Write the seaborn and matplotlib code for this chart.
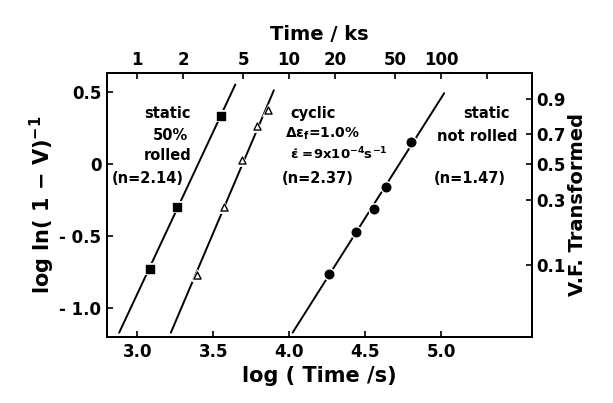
import numpy as np
import pandas as pd
import seaborn as sns
import matplotlib.pyplot as plt

# static, 50% rolled (filled squares)
rolled_logt = [3.08, 3.26, 3.55]
rolled_y = [-0.73, -0.30, 0.33]
# cyclic (open triangles)
cyclic_logt = [3.39, 3.57, 3.69, 3.79, 3.86]
cyclic_y = [-0.77, -0.30, 0.03, 0.26, 0.37]
# static, not rolled (filled circles)
notrolled_logt = [4.26, 4.44, 4.56, 4.64, 4.80]
notrolled_y = [-0.76, -0.47, -0.31, -0.16, 0.15]

# y extent of each fitted line
line_ylo = [-1.17, -1.17, -1.17]
line_yhi = [0.55, 0.51, 0.49]

top_ticks_ks = [1, 2, 5, 10, 20, 50, 100, 200]
top_labels = ["1", "2", "5", "10", "20", "50", "100", ""]
left_ticks = [0.5, 0, -0.5, -1.0]
left_labels = ["0.5", "0", "- 0.5", "- 1.0"]
bottom_ticks = [3.0, 3.5, 4.0, 4.5, 5.0]
vf_labels = ["0.9", "0.7", "0.5", "0.3", "0.1"]
vf_pos = [0.45, 0.21, 0.0, -0.25, -0.70]

sns.set_style("ticks")
plt.rcParams["font.family"] = ["DejaVu Sans"]
plt.rcParams["font.weight"] = "bold"
plt.rcParams["mathtext.default"] = "bf"
for k in ("text.color", "axes.labelcolor", "xtick.color", "ytick.color", "axes.edgecolor"):
    plt.rcParams[k] = "black"

fig = plt.figure(figsize=(6.13, 4.03), dpi=100)
ax = fig.add_axes([0.1746, 0.1638, 0.6933, 0.6551])

series = [
    (rolled_logt, rolled_y, "s", "black", 28),
    (cyclic_logt, cyclic_y, "^", "white", 26),
    (notrolled_logt, notrolled_y, "o", "black", 38),
]

for i, (xs, ys, mk, fc, sz) in enumerate(series):
    m, b = np.polyfit(xs, ys, 1)
    yl = np.array([line_ylo[i], line_yhi[i]])
    line = pd.DataFrame({"x": (yl - b) / m, "y": yl})
    sns.lineplot(data=line, x="x", y="y", ax=ax, color="black", lw=1.4)
    pts = pd.DataFrame({"x": xs, "y": ys})
    sns.scatterplot(data=pts, x="x", y="y", ax=ax, marker=mk, s=sz,
                    facecolor=fc, edgecolor="black", linewidth=1.0, zorder=3)
    # small white halo to break the line round each marker
    ax.scatter(xs, ys, s=85, c="white", marker=mk, zorder=2.5, linewidths=0)

ax.set_xlim(2.80, 5.60)
ax.set_ylim(-1.20, 0.63)

ax.set_xticks(bottom_ticks)
ax.set_xticklabels([f"{t:.1f}" for t in bottom_ticks])
ax.set_yticks(left_ticks)
ax.set_yticklabels(left_labels)
ax.tick_params(direction="in", length=4, width=1.2, labelsize=12, pad=4)
for s in ax.spines.values():
    s.set_linewidth(1.4)

ax.set_xlabel("log ( Time /s)", fontsize=15, fontweight="bold", labelpad=4)
ax.set_ylabel(r"log ln( 1 $-$ V)$^{-1}$", fontsize=15, fontweight="bold", labelpad=2)

# top axis: time in ks
ax2 = ax.twiny()
ax2.set_xlim(ax.get_xlim())
ax2.set_xticks(np.log10(np.array(top_ticks_ks) * 1000.0))
ax2.set_xticklabels(top_labels)
ax2.tick_params(direction="in", length=4, width=1.2, labelsize=12, pad=3)
ax2.set_xlabel("Time / ks", fontsize=14, fontweight="bold", labelpad=8)

# right axis: volume fraction transformed
ax3 = ax.twinx()
ax3.set_ylim(ax.get_ylim())
ax3.set_yticks(vf_pos)
ax3.set_yticklabels(vf_labels)
ax3.tick_params(direction="in", length=4, width=1.2, labelsize=12, pad=3)
ax3.set_ylabel("V.F. Transformed", fontsize=14, fontweight="bold", labelpad=2)
for a in (ax2, ax3):
    for s in a.spines.values():
        s.set_linewidth(1.4)

# curve annotations
notes = [
    (3.20, 0.35, "static", 10.5), (3.22, 0.20, "50%", 10.5), (3.20, 0.06, "rolled", 10.5),
    (3.07, -0.10, "(n=2.14)", 10.5),
    (4.16, 0.35, "cyclic", 10.5), (4.22, 0.205, r"$\Delta\epsilon_f$=1.0%", 10),
    (4.33, 0.065, r"$\dot{\epsilon}$ =9x10$^{-4}$s$^{-1}$", 9.5), (4.19, -0.10, "(n=2.37)", 10.5),
    (5.30, 0.35, "static", 10.5), (5.24, 0.19, "not rolled", 10.5), (5.19, -0.10, "(n=1.47)", 10.5),
]
for x, y, t, fs in notes:
    ax.text(x, y, t, ha="center", va="center", fontsize=fs, fontweight="bold")

fig.savefig("out.png", dpi=100)
